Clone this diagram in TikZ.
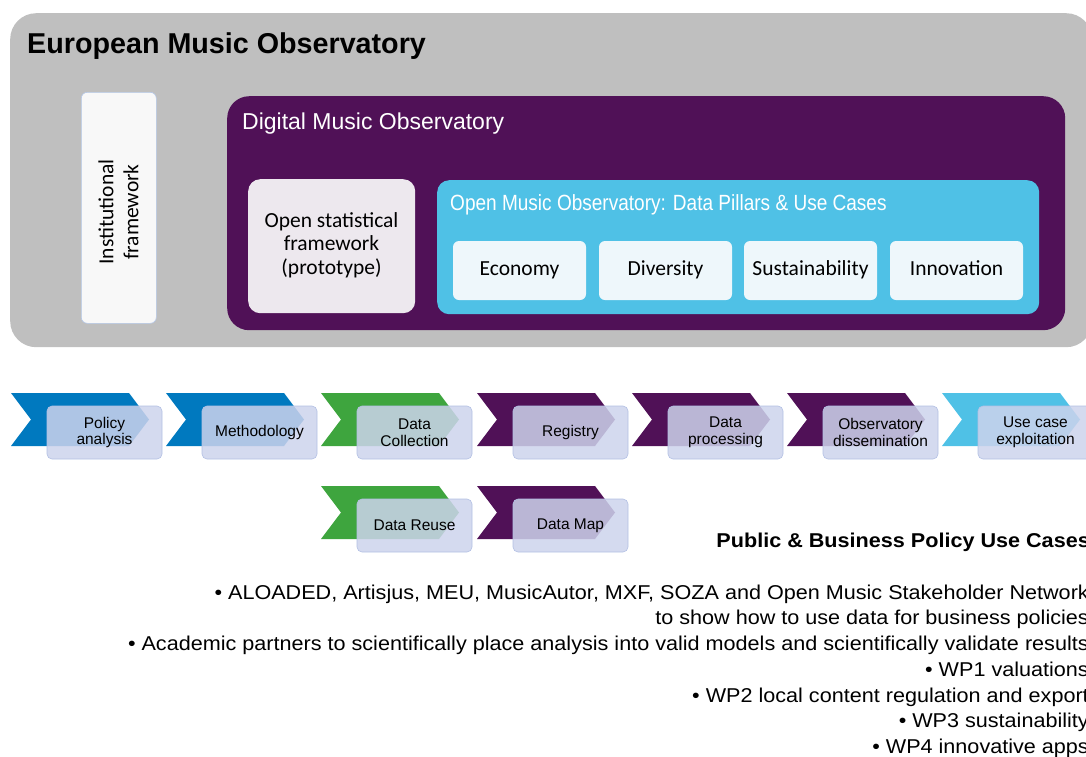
\documentclass[tikz,border=0pt]{standalone}
\usepackage{fontspec}
\setmainfont{Liberation Sans}
\newfontfamily\calfont{Carlito}
\newfontfamily\narrowfont[FakeStretch=0.865]{Liberation Sans}
\newfontfamily\widefont[FakeStretch=1.08]{Liberation Sans}

\definecolor{emogray}{RGB}{191,191,191}
\definecolor{dmopurple}{RGB}{80,17,87}
\definecolor{omocyan}{RGB}{79,193,230}
\definecolor{osffill}{RGB}{237,232,238}
\definecolor{instfill}{RGB}{248,248,248}
\definecolor{instline}{RGB}{180,199,231}
\definecolor{pillarfill}{RGB}{238,247,251}
\definecolor{chevblue}{RGB}{0,121,191}
\definecolor{chevgreen}{RGB}{62,165,62}
\definecolor{phasefill}{RGB}{205,211,236}
\definecolor{phaseline}{RGB}{178,192,228}

% chevron: left x, top y, colour
\newcommand{\stepchev}[3]{%
  \fill[#3] (#1,#2) -- ++(118,0) -- ++(20,26.5) -- ++(-20,26.5)
    -- ++(-118,0) -- ++(20,-26.5) -- cycle;}

\begin{document}
\begin{tikzpicture}[x=1pt,y=-1pt,
    panel/.style={anchor=north west, inner sep=0pt},
    pillar/.style={fill=pillarfill, rounded corners=6, minimum width=133,
      minimum height=59, inner sep=0pt, text height=15pt, text depth=5pt,
      font=\calfont\fontsize{21.5}{25}\selectfont},
    phase/.style={fill=phasefill, fill opacity=0.85, text opacity=1,
      draw=phaseline, line width=0.6pt, rounded corners=5, minimum width=115,
      minimum height=53, inner sep=0pt, align=center,
      font=\fontsize{15.5}{16.5}\selectfont}]
  \useasboundingbox (0,0) rectangle (1086,756);
  \clip (0,0) rectangle (1086,756);

  % outer observatory
  \node[panel, fill=emogray, rounded corners=26, minimum width=1082,
    minimum height=334] (emo) at (10,13) {};
  \node[anchor=base west, inner sep=0pt,
    font=\bfseries\fontsize{28.7}{34}\selectfont] (emotitle) at (27,53)
    {European Music Observatory};

  \node[panel, fill=instfill, draw=instline, line width=0.6pt,
    rounded corners=6, minimum width=75, minimum height=231] (inst) at (81,92) {};
  \node[rotate=90, align=center, font=\calfont\fontsize{21.5}{25}\selectfont]
    (insttext) at (118.5,212) {Institutional\\framework};

  % digital observatory
  \node[panel, fill=dmopurple, rounded corners=22, minimum width=838,
    minimum height=234] (dmo) at (227,96) {};
  \node[anchor=base west, inner sep=0pt, text=white,
    font=\fontsize{23}{27}\selectfont] (dmotitle) at (242,129)
    {Digital Music Observatory};

  \node[panel, fill=osffill, rounded corners=12, minimum width=167,
    minimum height=134] (osf) at (248,179) {};
  \node[align=center, font=\calfont\fontsize{21.5}{23.5}\selectfont]
    (osftext) at (331.5,245) {Open statistical\\framework\\(prototype)};

  \node[panel, fill=omocyan, rounded corners=12, minimum width=602,
    minimum height=134] (omo) at (437,180) {};
  \node[anchor=base west, inner sep=0pt, text=white,
    font=\narrowfont\fontsize{22}{26}\selectfont] (omotitle) at (450,210)
    {Open Music Observatory: Data Pillars \& Use Cases};

  \node[pillar] (economy) at (519.5,270.5) {Economy};
  \node[pillar] (diversity) at (665.5,270.5) {Diversity};
  \node[pillar] (sustain) at (810.5,270.5) {Sustainability};
  \node[pillar] (innov) at (956.5,270.5) {Innovation};

  % process chevrons
  \stepchev{11}{393}{chevblue}
  \stepchev{166}{393}{chevblue}
  \stepchev{321}{393}{chevgreen}
  \stepchev{477}{393}{dmopurple}
  \stepchev{632}{393}{dmopurple}
  \stepchev{787}{393}{dmopurple}
  \stepchev{942}{393}{omocyan}
  \stepchev{321}{486}{chevgreen}
  \stepchev{477}{486}{dmopurple}

  \node[phase] (policy) at (104.5,432.5) {Policy\\analysis};
  \node[phase] (method) at (259.5,432.5) {Methodology};
  \node[phase] (collect) at (414.5,432.5) {Data\\Collection};
  \node[phase] (registry) at (570.5,432.5) {Registry};
  \node[phase] (process) at (725.5,432.5) {Data\\processing};
  \node[phase] (dissem) at (880.5,432.5) {Observatory\\dissemination};
  \node[phase] (usecase) at (1035.5,432.5) {Use case\\exploitation};
  \node[phase] (reuse) at (414.5,525.5) {Data Reuse};
  \node[phase] (datamap) at (570.5,525.5) {Data Map};

  % use cases
  \node[anchor=base east, inner sep=0pt,
    font=\widefont\bfseries\fontsize{20}{23}\selectfont] (casetitle) at (1090,547)
    {Public \& Business Policy Use Cases};
  \node[anchor=north east, align=right, inner sep=0pt,
    font=\widefont\fontsize{20}{25.7}\selectfont] (cases) at (1089,584.5)
    {• ALOADED, Artisjus, MEU, MusicAutor, MXF, SOZA and Open Music Stakeholder Network\\
     to show how to use data for business policies\\
     • Academic partners to scientifically place analysis into valid models and scientifically validate results\\
     • WP1 valuations\\
     • WP2 local content regulation and export\\
     • WP3 sustainability\\
     • WP4 innovative apps};
\end{tikzpicture}
\end{document}
